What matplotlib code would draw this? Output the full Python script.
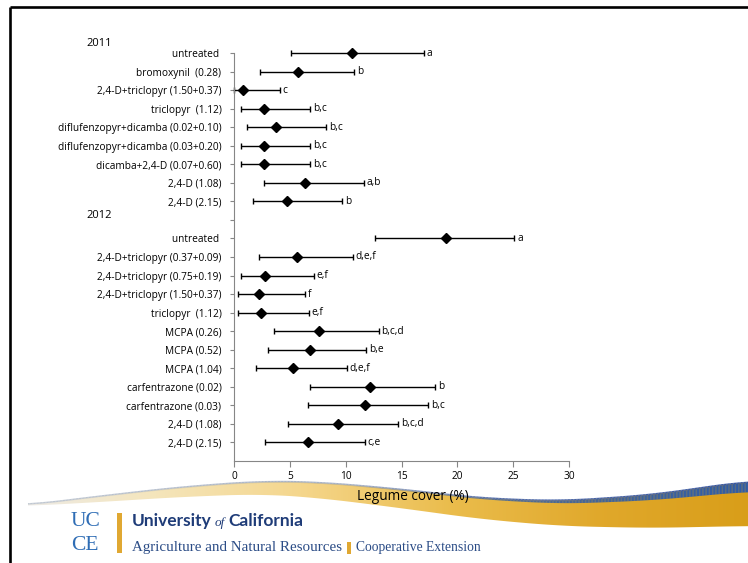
import numpy as np
import matplotlib
matplotlib.use("Agg")
import matplotlib.pyplot as plt
from matplotlib.path import Path
from matplotlib.patches import PathPatch
from matplotlib.collections import LineCollection

plt.rcParams['font.family'] = ['Open Sans', 'DejaVu Sans']

# ---------------- data ----------------
labels_2011 = ["untreated ", "bromoxynil  (0.28)", "2,4-D+triclopyr (1.50+0.37)",
               "triclopyr  (1.12)", "diflufenzopyr+dicamba (0.02+0.10)",
               "diflufenzopyr+dicamba (0.03+0.20)", "dicamba+2,4-D (0.07+0.60)",
               "2,4-D (1.08)", "2,4-D (2.15)"]
mean_2011 = [10.6, 5.7, 0.85, 2.7, 3.75, 2.7, 2.7, 6.35, 4.75]
low_2011 = [5.1, 2.3, 0.0, 0.65, 1.15, 0.65, 0.65, 2.65, 1.7]
high_2011 = [17.0, 10.75, 4.1, 6.8, 8.25, 6.8, 6.8, 11.65, 9.7]
letters_2011 = ["a", "b", "c", "b,c", "b,c", "b,c", "b,c", "a,b", "b"]

labels_2012 = ["untreated ", "2,4-D+triclopyr (0.37+0.09)", "2,4-D+triclopyr (0.75+0.19)",
               "2,4-D+triclopyr (1.50+0.37)", "triclopyr  (1.12)", "MCPA (0.26)",
               "MCPA (0.52)", "MCPA (1.04)", "carfentrazone (0.02)",
               "carfentrazone (0.03)", "2,4-D (1.08)", "2,4-D (2.15)"]
mean_2012 = [18.95, 5.65, 2.8, 2.2, 2.4, 7.65, 6.8, 5.25, 12.2, 11.7, 9.3, 6.6]
low_2012 = [12.65, 2.2, 0.6, 0.35, 0.35, 3.6, 3.05, 1.95, 6.85, 6.6, 4.85, 2.8]
high_2012 = [25.1, 10.65, 7.15, 6.4, 6.7, 12.95, 11.85, 10.1, 18.0, 17.4, 14.7, 11.7]
letters_2012 = ["a", "d,e,f", "e,f", "f", "e,f", "b,c,d", "b,e", "d,e,f",
                "b", "b,c", "b,c,d", "c,e"]

year_labels = ["2011", "2012"]
x_ticks = [0, 5, 10, 15, 20, 25, 30]
x_label = "Legume cover (%)"

# ---------------- figure ----------------
W, H = 748, 563
fig = plt.figure(figsize=(W / 100, H / 100), dpi=100)
fig.patch.set_facecolor("white")
renderer = fig.canvas.get_renderer()

# background / decoration layer in pixel coordinates
bg = fig.add_axes([0, 0, 1, 1], zorder=0)
bg.set_xlim(0, W)
bg.set_ylim(H, 0)
bg.axis("off")

# frame lines (top and left)
bg.plot([10.5, W], [6.5, 6.5], color="black", lw=1.9, solid_capstyle="butt")
bg.plot([10.5, 10.5], [6.5, H], color="black", lw=1.9, solid_capstyle="butt")

# swoosh
xc = [28, 100, 180, 260, 320, 400, 480, 560, 650, 748]
tc = [505, 496, 487, 481, 482, 489, 498, 501, 495, 481]
bc = [506, 502, 497, 494, 498, 508, 519, 526, 528, 526]
xd = np.linspace(28, 748, 500)
def smooth(v, k=25):
    p = np.pad(v, k, mode="edge")
    return np.convolve(p, np.ones(2 * k + 1) / (2 * k + 1), mode="same")[k:-k]
td = smooth(np.interp(xd, xc, tc))
bd = smooth(np.interp(xd, xc, bc))
verts = list(zip(xd, td)) + list(zip(xd[::-1], bd[::-1]))
clip = PathPatch(Path(verts + [verts[0]], closed=True), facecolor="none", edgecolor="none")
bg.add_patch(clip)
gx = np.linspace(28, 748, 300)
stops_x = [28, 150, 300, 450, 600, 748]
stops_c = np.array([[0.93, 0.92, 0.90], [0.96, 0.90, 0.74], [0.96, 0.84, 0.55],
                     [0.92, 0.74, 0.30], [0.88, 0.66, 0.17], [0.85, 0.62, 0.10]])
grad = np.stack([np.interp(gx, stops_x, stops_c[:, i]) for i in range(3)], axis=-1)
img = bg.imshow(grad[np.newaxis, :, :], extent=[28, 748, 535, 470], aspect="auto",
                interpolation="bilinear", zorder=1)
img.set_clip_path(clip)
# blue top band
thick = smooth(np.interp(xd, [28, 400, 500, 560, 650, 748], [0.6, 0.8, 1.2, 2.5, 5, 10]))
alpha = np.interp(xd, [28, 350, 500, 748], [0.0, 0.2, 0.8, 1.0])
for i in range(len(xd) - 1):
    bg.fill_between(xd[i:i + 2], td[i:i + 2], td[i:i + 2] + thick[i:i + 2],
                    color=(0.18, 0.36, 0.66), alpha=alpha[i], lw=0, zorder=2)
pts = np.array([xd, td]).T.reshape(-1, 1, 2)
segs = np.concatenate([pts[:-1], pts[1:]], axis=1)
lc_cols = [(0.75 - 0.55 * a, 0.78 - 0.45 * a, 0.82 - 0.18 * a) for a in alpha[:-1]]
bg.add_collection(LineCollection(segs, colors=lc_cols, linewidths=1.0, zorder=3))

# logo
navy = "#1F3C78"
bg.text(71, 521, "UC", fontsize=15.5, family="Liberation Serif", color="#2F6DB5",
        va="center", ha="left")
bg.text(71, 546, "CE", fontsize=15.5, family="Liberation Serif", color="#2F6DB5",
        va="center", ha="left")
bg.fill_between([117, 122], [513, 513], [553, 553], color="#E0A832", lw=0)
t1 = bg.text(132, 521, "University", fontsize=12.5, fontweight="bold", color=navy,
             family="Lato", va="center", ha="left")
x1 = t1.get_window_extent(renderer).x1 + 3
t2 = bg.text(x1, 523, "of", fontsize=9.5, style="italic", family="Liberation Serif",
             color=navy, va="center", ha="left")
x2 = t2.get_window_extent(renderer).x1 + 3
bg.text(x2, 521, "California", fontsize=12.5, fontweight="bold", color=navy,
        family="Lato", va="center", ha="left")
bg.text(132, 548, "Agriculture and Natural Resources", fontsize=10.8,
        family="Liberation Serif", color="#2B4C86", va="center", ha="left")
bg.fill_between([347, 351], [542, 542], [554, 554], color="#E0A832", lw=0)
bg.text(356, 548, "Cooperative Extension", fontsize=9.8,
        family="Liberation Serif", color="#2B4C86", va="center", ha="left")

# year labels
bg.text(86, 44, year_labels[0], fontsize=8, color="black", va="center", ha="left")
bg.text(86, 215, year_labels[1], fontsize=8, color="black", va="center", ha="left")

# ---------------- chart ----------------
ax = fig.add_axes([234 / W, 1 - 461 / H, (569 - 234) / W, (461 - 53) / H], zorder=2)
ax.patch.set_alpha(0)

labels = labels_2011 + [""] + labels_2012
means = mean_2011 + [np.nan] + mean_2012
lows = low_2011 + [np.nan] + low_2012
highs = high_2011 + [np.nan] + high_2012
letters = letters_2011 + [""] + letters_2012
ypos = np.arange(len(labels))

fs = 7.3
means_a = np.array(means)
xerr = np.array([means_a - np.array(lows), np.array(highs) - means_a])
ax.errorbar(means_a, ypos, xerr=xerr, fmt="D", color="black", ms=5.5,
            ecolor="black", elinewidth=1.0, capsize=2.0, capthick=1.0, clip_on=False)
for y, h, t in zip(ypos, highs, letters):
    if t:
        ax.text(h + 0.25, y, t, fontsize=fs, va="center", ha="left")

ax.set_ylim(22, 0)
ax.set_xlim(0, 30)
ax.set_yticks(ypos)
ax.set_yticklabels(labels, fontsize=fs)
ax.set_xticks(x_ticks)
ax.set_xticklabels([str(v) for v in x_ticks], fontsize=fs)
for s in ["top", "right"]:
    ax.spines[s].set_visible(False)
for s in ["left", "bottom"]:
    ax.spines[s].set_color("#868686")
    ax.spines[s].set_linewidth(0.8)
ax.tick_params(axis="y", length=3, width=0.8, color="#868686", pad=6)
ax.tick_params(axis="x", length=4, width=0.8, color="#868686", pad=3)
ax.set_xlabel(x_label, fontsize=9.8)
ax.xaxis.set_label_coords((413 - 234) / (569 - 234), -(497 - 461) / (461 - 53))
ax.xaxis.label.set_va("center")

fig.savefig("out.png", dpi=100, facecolor="white")
